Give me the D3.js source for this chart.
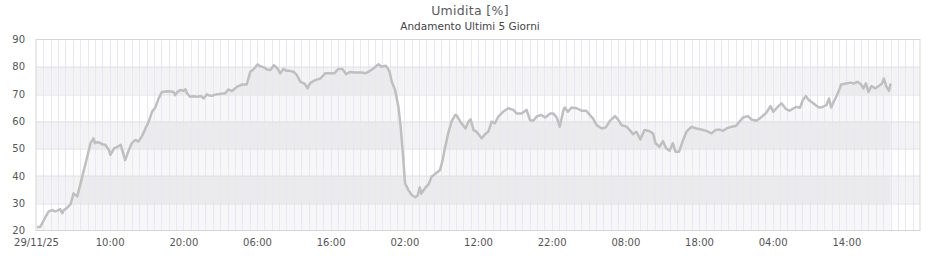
<!DOCTYPE html>
<html>
<head>
<meta charset="utf-8">
<script src="https://cdn.jsdelivr.net/npm/d3@7"></script>
<style>
    body { margin: 0; background: #fff; }
    #chart { width: 940px; height: 260px; }
    text { font-family: "DejaVu Sans", sans-serif; }
</style>
</head>
<body>
<div id="chart"></div>
<script>
// hours since 29/11/25 00:00 and humidity readings
let hours = [0.15, 0.6, 1.0, 1.3, 1.7, 2.2, 2.6, 2.9, 3.3, 3.55, 3.8, 4.1, 4.7, 5.1, 5.6, 6.0, 6.5, 6.9, 7.4, 7.8,
    8.0, 8.4, 8.75, 9.1, 9.4, 9.9, 10.1, 10.6, 11.0, 11.5, 11.9, 12.1, 12.6, 13.0, 13.5, 13.9, 14.4, 14.85, 15.3, 15.75,
    16.2, 16.65, 17.1, 17.8, 18.3, 18.7, 18.9, 19.2, 19.6, 20.0, 20.3, 20.5, 20.9, 21.4, 21.9, 22.4, 22.75, 23.2, 23.5, 23.9,
    24.3, 24.6, 25.2, 25.7, 26.1, 26.6, 27.3, 28.0, 28.6, 29.1, 29.5, 30.1, 30.4, 30.7, 31.0, 31.35, 31.8, 32.3, 32.8, 33.15,
    33.6, 34.0, 34.3, 34.95, 35.4, 35.9, 36.5, 36.85, 37.2, 37.9, 38.6, 39.25, 39.9, 40.5, 41.05, 41.6, 42.1, 42.65, 43.3, 44.2,
    44.7, 45.1, 45.8, 46.5, 46.9, 47.5, 48.0, 48.3, 48.75, 49.2, 49.5, 49.8, 50.1, 50.55, 51.0, 51.5, 51.8, 52.1, 52.3, 52.8,
    53.3, 53.7, 54.3, 54.85, 55.2, 55.5, 55.95, 56.4, 56.9, 57.1, 57.6, 58.3, 58.7, 59.0, 59.4, 59.8, 60.5, 60.95, 61.4, 61.85,
    62.3, 62.75, 63.4, 64.1, 64.8, 65.25, 65.9, 66.6, 67.05, 67.5, 68.0, 68.6, 69.1, 69.8, 70.2, 70.7, 71.1, 71.6, 71.8, 72.2,
    72.7, 73.4, 74.05, 74.7, 75.2, 75.6, 76.1, 76.8, 77.35, 77.9, 78.6, 79.0, 79.5, 80.2, 80.6, 81.05, 81.5, 82.05, 82.6, 83.2,
    83.75, 84.1, 84.65, 85.1, 85.55, 86.0, 86.45, 86.8, 87.3, 87.75, 88.3, 88.95, 89.65, 90.3, 91.0, 91.7, 92.25, 92.8, 93.25, 93.75,
    94.35, 95.0, 95.5, 96.0, 96.65, 97.1, 97.8, 98.45, 99.15, 99.7, 100.1, 100.6, 101.2, 101.8, 102.3, 102.85, 103.2, 103.7, 104.1, 104.5,
    104.9, 105.4, 105.8, 106.3, 106.8, 107.3, 107.65, 107.95, 108.4, 108.85, 109.3, 109.95, 110.6, 111.05, 111.5, 111.95, 112.3, 112.65, 113.0, 113.4,
    113.95, 114.4, 114.85, 115.1, 115.4, 115.8, 116.0];

let humidity = [21.2, 21.4, 23.5, 25, 26.9, 27.5, 27.0, 27.3, 27.8, 26.3, 27.6, 28, 29.7, 33.6, 32.5, 36.7, 42.2, 46.4, 52, 53.8,
    52, 52.4, 52, 51.5, 51.4, 49.5, 47.7, 50.1, 50.6, 51.4, 47.7, 45.8, 49.5, 52, 53.2, 52.6, 54.6, 57.4, 59.9, 63.5,
    65.1, 68.4, 70.8, 71, 70.9, 70.8, 69.6, 70.8, 71.5, 71.2, 71.7, 70.3, 69, 69.2, 69, 69.3, 68.4, 69.9, 69.5, 69.4,
    69.8, 69.9, 70.1, 70.3, 71.7, 71.1, 72.7, 73.5, 73.5, 78.2, 79.0, 80.9, 80.2, 80, 79.7, 79, 78.8, 80.6, 79.3, 77.6,
    79.3, 78.5, 78.6, 78.2, 77, 74.5, 73.7, 72.1, 74, 75.1, 75.7, 77.6, 77.6, 77.6, 79.2, 79.2, 77.3, 78.1, 77.9, 77.9,
    77.6, 78.1, 79.4, 80.9, 80, 80.4, 78.2, 74.5, 71.5, 65.3, 58, 48.3, 37.3, 34.8, 33, 32.2, 32.8, 35.8, 33.5, 35.5,
    37, 39.7, 41, 42.2, 45.8, 50.1, 55.6, 59.9, 62.3, 62.2, 59.9, 57.4, 59.9, 60.7, 56.8, 56.2, 53.8, 55.3, 56.2, 59.9,
    59.3, 61.7, 63.5, 64.8, 64.2, 62.9, 62.9, 64.2, 60.5, 60.2, 61.9, 62.3, 61.4, 62.9, 62.9, 61.4, 58, 64.2, 65.1, 63.5,
    65.1, 64.8, 63.9, 63.9, 62.3, 61.1, 58.6, 57.4, 57.8, 60.2, 61.9, 60.7, 58.6, 58, 56.8, 55.3, 56.2, 53.4, 56.8, 56.5,
    55.6, 52, 50.7, 52.8, 50.1, 49.2, 52, 48.9, 48.9, 52.5, 56.2, 58, 57.4, 57, 56.5, 55.6, 56.8, 57, 56.5, 57.4,
    58, 58.3, 59.9, 61.5, 61.9, 60.7, 60.2, 61.5, 63.2, 65.6, 63.5, 65.1, 66.6, 64.5, 63.9, 64.8, 65.3, 65, 67.8, 69.3,
    67.8, 66.9, 66.0, 65.1, 65.3, 66, 68.4, 65.1, 67.8, 70.3, 73.5, 73.9, 74.2, 73.9, 74.5, 73.7, 72.1, 73.9, 70.8, 72.9,
    72.1, 73, 73.9, 75.7, 73, 71.2, 73.9];

let yTicks = [20, 30, 40, 50, 60, 70, 80, 90];
let tickHours = [0, 10, 20, 30, 40, 50, 60, 70, 80, 90, 100, 110];
let titleText = "Umidita [%]";
let subtitleText = "Andamento Ultimi 5 Giorni";

let startDate = new Date(2025, 10, 29, 0, 0);
let endDate = new Date(2025, 11, 4, 0, 0);

function hourDate(h) {
    return new Date(startDate.getTime() + h * 3600 * 1000);
}

let data = hours.map((h, i) => ({date: hourDate(h), value: humidity[i]}));

let margin = {top: 39.5, right: 20, bottom: 29.5, left: 36};
let width = 940 - margin.left - margin.right;
let height = 260 - margin.top - margin.bottom;

let svg = d3.select("#chart").append("svg")
    .attr("width", 940)
    .attr("height", 260);

// titles
svg.append("text")
    .attr("x", 470).attr("y", 15)
    .attr("text-anchor", "middle")
    .attr("font-size", "12.5px")
    .attr("letter-spacing", "0.3px")
    .attr("fill", "#5a5a5a")
    .text(titleText);

svg.append("text")
    .attr("x", 470).attr("y", 30)
    .attr("text-anchor", "middle")
    .attr("font-size", "10.5px")
    .attr("fill", "#444")
    .text(subtitleText);

let g = svg.append("g")
    .attr("transform", `translate(${margin.left},${margin.top})`);

let x = d3.scaleTime().domain([startDate, endDate]).range([0, width]);
let y = d3.scaleLinear().domain([20, 90]).range([height, 0]);

// alternating bands
g.selectAll(".band")
    .data(yTicks.slice(0, -1))
    .enter().append("rect")
    .attr("class", "band")
    .attr("x", 0)
    .attr("width", width)
    .attr("y", d => y(d + 10))
    .attr("height", d => y(d) - y(d + 10))
    .attr("fill", d => (d / 10) % 2 === 1 ? "#f3f3f3" : "#ffffff");

// area under line
let area = d3.area()
    .x(d => x(d.date))
    .y0(y(20))
    .y1(d => y(d.value));

g.append("path")
    .datum(data)
    .attr("d", area)
    .attr("fill", "#000")
    .attr("fill-opacity", 0.03);

// hourly vertical grid
g.selectAll(".vgrid")
    .data(d3.timeHour.range(hourDate(1), endDate))
    .enter().append("line")
    .attr("class", "vgrid")
    .attr("x1", d => Math.round(x(d)) + 0.5)
    .attr("x2", d => Math.round(x(d)) + 0.5)
    .attr("y1", 0)
    .attr("y2", height)
    .attr("stroke", "#e8e6f8")
    .attr("stroke-width", 1);

// horizontal grid
g.selectAll(".hgrid")
    .data(yTicks.slice(1, -1))
    .enter().append("line")
    .attr("class", "hgrid")
    .attr("x1", 0)
    .attr("x2", width)
    .attr("y1", d => Math.round(y(d)) + 0.5)
    .attr("y2", d => Math.round(y(d)) + 0.5)
    .attr("stroke", "#e0e0e0");

// frame
g.append("rect")
    .attr("x", 0).attr("y", 0)
    .attr("width", width).attr("height", height)
    .attr("fill", "none")
    .attr("stroke", "#d6d6d6");

// line
let line = d3.line()
    .x(d => x(d.date))
    .y(d => y(d.value));

g.append("path")
    .datum(data)
    .attr("d", line)
    .attr("fill", "none")
    .attr("stroke", "#bfbfbf")
    .attr("stroke-width", 2.5)
    .attr("stroke-linejoin", "round");

// axes
let fmtDay = d3.timeFormat("%d/%m/%y");
let fmtHour = d3.timeFormat("%H:%M");

let xAxis = d3.axisBottom(x)
    .tickValues(tickHours.map(hourDate))
    .tickSize(0)
    .tickPadding(8)
    .tickFormat((d, i) => i === 0 ? fmtDay(d) : fmtHour(d));

g.append("g")
    .attr("class", "x-axis")
    .attr("transform", `translate(0,${height})`)
    .call(xAxis)
    .call(s => s.select(".domain").remove())
    .selectAll("text")
    .attr("font-family", "DejaVu Sans")
    .attr("font-size", "10px")
    .attr("fill", "#555");

let yAxis = d3.axisLeft(y)
    .tickValues(yTicks)
    .tickSize(0)
    .tickPadding(11);

g.append("g")
    .attr("class", "y-axis")
    .call(yAxis)
    .call(s => s.select(".domain").remove())
    .selectAll("text")
    .attr("font-family", "DejaVu Sans")
    .attr("font-size", "10px")
    .attr("fill", "#555");
</script>
</body>
</html>
